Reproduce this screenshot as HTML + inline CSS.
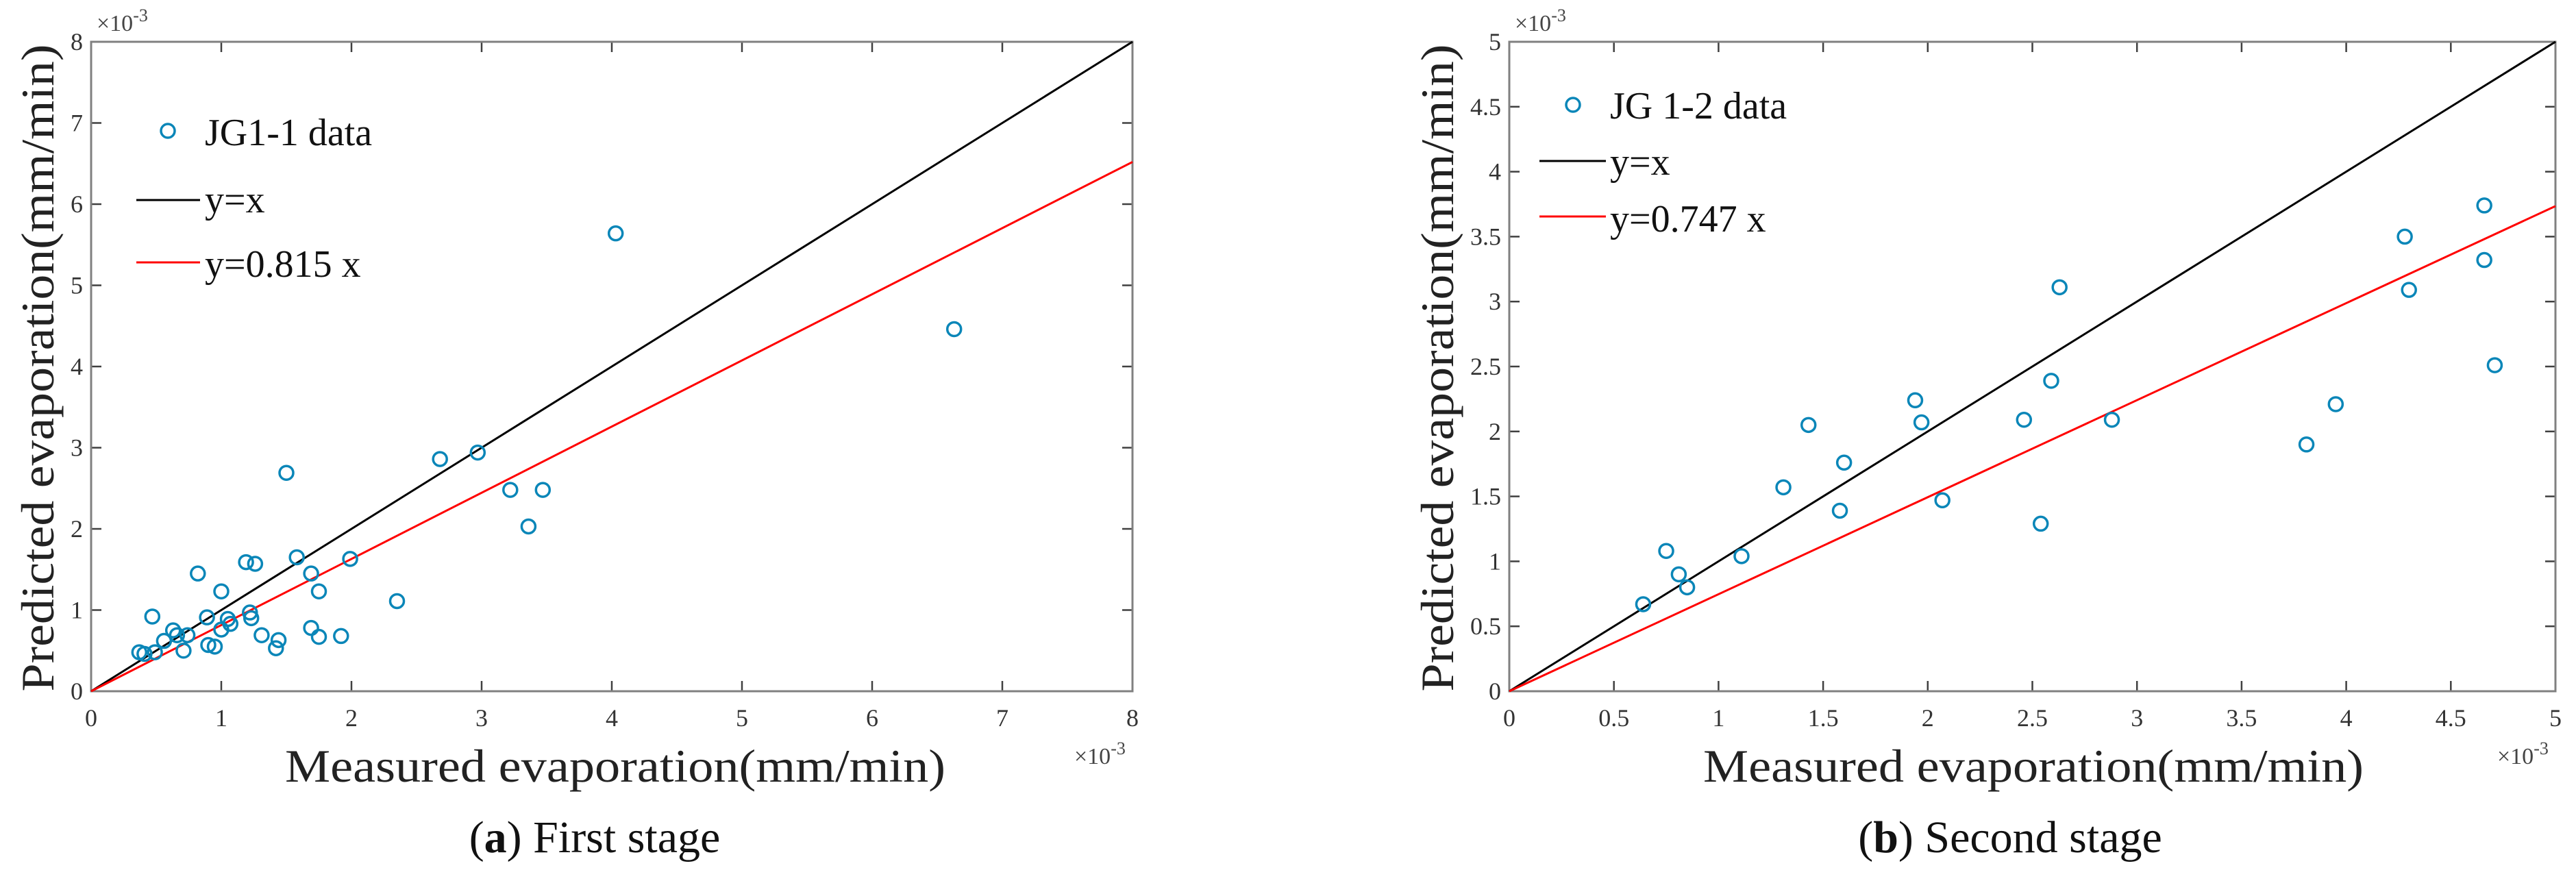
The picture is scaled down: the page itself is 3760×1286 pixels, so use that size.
<!DOCTYPE html>
<html><head><meta charset="utf-8"><style>
html,body{margin:0;padding:0;background:#fff}
svg{display:block;font-family:"Liberation Serif",serif}
</style></head><body>
<svg id="fig" width="3760" height="1286" viewBox="0 0 3760 1286"></svg>
<script>
// Panel (a) data (units of 1e-3 mm/min)
const aMeasured = [6.63,4.03,2.68,2.97,1.50,3.22,3.47,3.36,2.35,1.99,1.58,1.69,1.75,1.19,1.26,0.82,1.00,0.47,0.89,1.05,1.07,1.22,1.23,1.00,1.31,1.69,1.75,1.92,1.44,1.42,0.90,0.95,0.63,0.66,0.74,0.56,0.71,0.49,0.37,0.41];
const aPredicted = [4.46,5.64,2.86,2.94,2.69,2.48,2.48,2.03,1.11,1.63,1.65,1.45,1.23,1.59,1.57,1.45,1.23,0.92,0.91,0.89,0.83,0.97,0.90,0.76,0.69,0.78,0.67,0.68,0.63,0.53,0.57,0.55,0.75,0.69,0.69,0.62,0.50,0.48,0.48,0.46];
const aSlope = 0.815;
const aTicks = [0,1,2,3,4,5,6,7,8];
const aTickLabels = ["0","1","2","3","4","5","6","7","8"];
// Panel (b) data
const bMeasured = [4.66,4.28,4.66,4.30,4.71,3.95,3.81,2.63,2.59,2.46,2.88,2.54,2.07,1.94,1.97,1.43,1.60,1.58,1.31,1.11,0.75,0.81,0.85,0.64];
const bPredicted = [3.74,3.50,3.32,3.09,2.51,2.21,1.90,3.11,2.39,2.09,2.09,1.29,1.47,2.24,2.07,2.05,1.76,1.39,1.57,1.04,1.08,0.90,0.80,0.67];
const bSlope = 0.747;
const bTicks = [0,0.5,1,1.5,2,2.5,3,3.5,4,4.5,5];
const bTickLabels = ["0","0.5","1","1.5","2","2.5","3","3.5","4","4.5","5"];

const NS="http://www.w3.org/2000/svg";
const svg=document.getElementById('fig');
function mk(tag,attrs,parent,txt){const e=document.createElementNS(NS,tag);for(const k in attrs)e.setAttribute(k,attrs[k]);if(txt!==undefined)e.textContent=txt;(parent||svg).appendChild(e);return e;}

function panel(cfg){
  const g=mk('g',{});
  
  
  const L=cfg.left,R=cfg.right,T=61,B=1009,max=cfg.max;
  const sx=v=>L+(R-L)*v/max, sy=v=>B-(B-T)*v/max;
  // ticks
  cfg.ticks.forEach((t,i)=>{
    const x=sx(t),y=sy(t);
    if(i>0&&i<cfg.ticks.length-1){
      for(const [x1,y1,x2,y2] of [[x,B,x,B-15],[x,T,x,T+15],[L,y,L+15,y],[R,y,R-15,y]]){
        const tk=mk('line',{x1,y1,x2,y2,stroke:'#404040','stroke-width':2.5},g);
        
        
      }
    }
    const xl=mk('text',{x:x,y:1060,'font-size':36,'text-anchor':'middle',fill:'#333'},g,cfg.labels[i]);
    
    
    const yl=mk('text',{x:L-12,y:y+12,'font-size':36,'text-anchor':'end',fill:'#333'},g,cfg.labels[i]);
    
    
  });
  const box=mk('rect',{x:L,y:T,width:R-L,height:B-T,fill:'none',stroke:'#808080','stroke-width':3},g);
  
  
  // lines
  const l1=mk('line',{x1:sx(0),y1:sy(0),x2:sx(max),y2:sy(max),stroke:'#000','stroke-width':3},g);
  
  
  const l2=mk('line',{x1:sx(0),y1:sy(0),x2:sx(max),y2:sy(max*cfg.slope),stroke:'#ff0000','stroke-width':3},g);
  
  
  cfg.xs.forEach((v,i)=>{
    const c=mk('circle',{cx:sx(v),cy:sy(cfg.ys[i]),r:10,fill:'none',stroke:'#0a86b8','stroke-width':3.5},g);
    
    
  });
  // exponents
  const e1=mk('text',{x:L+8,y:45,'font-size':34,fill:'#444'},g);
  
  
  e1.innerHTML='×10<tspan dy="-14" font-size="26">-3</tspan>';
  const e2=mk('text',{x:R-85,y:1115,'font-size':34,fill:'#444'},g);
  
  
  e2.innerHTML='×10<tspan dy="-14" font-size="26">-3</tspan>';
  // axis titles
  const xt=mk('text',{x:cfg.xTitleX,y:1141,'font-size':68,'text-anchor':'middle',textLength:964,lengthAdjust:'spacingAndGlyphs',fill:'#222'},g,'Measured evaporation(mm/min)');
  
  
  const yt=mk('text',{x:0,y:0,'font-size':68,'text-anchor':'middle',textLength:cfg.yLen,lengthAdjust:'spacingAndGlyphs',fill:'#222',transform:`translate(${cfg.yTitleX},${cfg.yTitleY}) rotate(-90)`},g,'Predicted evaporation(mm/min)');
  
  
  // legend
  const lg=mk('g',{},g);
  
  
  mk('circle',{cx:cfg.lg.mx,cy:cfg.lg.my,r:10,fill:'none',stroke:'#0a86b8','stroke-width':3.5},lg);
  mk('text',{x:cfg.lg.tx,y:cfg.lg.y1,'font-size':56,fill:'#111'},lg,cfg.series);
  mk('line',{x1:cfg.lg.lx1,x2:cfg.lg.lx2,y1:cfg.lg.ly2,y2:cfg.lg.ly2,stroke:'#000','stroke-width':3},lg);
  mk('text',{x:cfg.lg.tx,y:cfg.lg.y2,'font-size':56,fill:'#111'},lg,'y=x');
  mk('line',{x1:cfg.lg.lx1,x2:cfg.lg.lx2,y1:cfg.lg.ly3,y2:cfg.lg.ly3,stroke:'#ff0000','stroke-width':3},lg);
  mk('text',{x:cfg.lg.tx,y:cfg.lg.y3,'font-size':56,fill:'#111'},lg,'y='+cfg.slope+' x');
  // caption
  const cp=mk('text',{x:cfg.capX,y:1244,'font-size':66,'text-anchor':'middle',fill:'#111'},g);
  
  
  cp.innerHTML='(<tspan font-weight="bold">'+cfg.letter+'</tspan>) '+cfg.caption;
}
panel({name:'panel-a-first-stage',left:133,right:1653,max:8,ticks:aTicks,labels:aTickLabels,xs:aMeasured,ys:aPredicted,slope:aSlope,
  xTitleX:898,yTitleX:78,yTitleY:537,yLen:945,series:'JG1-1 data',letter:'a',caption:'First stage',capX:868,
  lg:{mx:245,my:191,tx:299,y1:212,lx1:199,lx2:292,ly2:292,y2:310,ly3:383,y3:404}});
panel({name:'panel-b-second-stage',left:2203,right:3730,max:5,ticks:bTicks,labels:bTickLabels,xs:bMeasured,ys:bPredicted,slope:bSlope,
  xTitleX:2968,yTitleX:2121,yTitleY:537,yLen:945,series:'JG 1-2 data',letter:'b',caption:'Second stage',capX:2934,
  lg:{mx:2296,my:153,tx:2350,y1:173,lx1:2247,lx2:2344,ly2:235,y2:255,ly3:316,y3:338}});
</script>
</body></html>
